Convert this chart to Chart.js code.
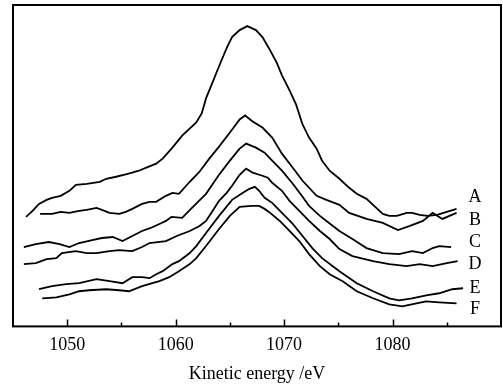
<!DOCTYPE html>
<html>
<head>
<meta charset="utf-8">
<script src="https://cdn.jsdelivr.net/npm/chart.js@4"></script>
<style>
html,body{margin:0;padding:0;background:#fff;}
#wrap{width:503px;height:385px;position:relative;}
</style>
</head>
<body>
<div id="wrap"><canvas id="c" width="503" height="385"></canvas></div>
<script>
// Kinetic energy (eV) and intensity (arb. units) for each spectrum
const energyA = [1046.2,1046.8,1047.4,1048.1,1048.6,1049.4,1050.2,1050.8,1051.8,1053.0,1053.6,1054.5,1055.3,1056.0,1056.6,1057.3,1058.2,1058.8,1059.7,1060.6,1061.9,1062.4,1062.8,1063.4,1064.0,1064.7,1065.2,1065.9,1066.6,1067.4,1068.0,1068.6,1069.3,1069.8,1070.5,1071.1,1071.7,1072.3,1073.0,1073.5,1074.2,1075.1,1076.0,1076.7,1077.6,1078.3,1079.1,1079.7,1080.4,1081.3,1081.8,1082.5,1083.2,1084.1,1085.0,1085.9];
const intensA = [109,115,122,126,128,130,135,141,142,144,147,149,151,153,155,158,162,167,178,190,203,212,227,243,259,277,288,295,299,295,288,277,263,250,235,221,201,188,177,165,155,147,138,132,127,120,112,110,110,113,113,111,110,111,114,117];

const energyB = [1047.5,1048.6,1049.4,1050.2,1051.1,1051.8,1052.7,1053.2,1053.9,1054.8,1055.4,1056.0,1056.9,1057.6,1058.2,1059.1,1059.7,1060.3,1061.3,1062.2,1063.1,1064.0,1065.0,1065.9,1066.4,1067.1,1068.0,1068.9,1069.8,1070.8,1071.7,1073.0,1073.9,1075.1,1076.0,1077.6,1079.1,1080.5,1081.6,1082.8,1083.7,1084.6,1085.9];
const intensB = [112,112,114,113,115,116,118,116,113,112,114,117,122,124,124,130,133,132,144,154,167,179,193,206,210,204,198,188,172,158,145,130,126,121,113,107,103,96,100,105,113,107,113];

const energyC = [1046.0,1047.1,1048.3,1049.3,1050.2,1051.1,1052.3,1053.2,1054.2,1055.1,1056.0,1056.9,1057.7,1058.5,1059.1,1059.6,1060.6,1061.5,1062.8,1064.0,1065.0,1065.9,1066.5,1067.4,1068.2,1068.9,1069.8,1070.8,1071.7,1072.3,1073.3,1074.5,1075.1,1076.3,1077.6,1079.1,1080.6,1081.8,1082.8,1083.7,1084.3,1085.4];
const intensC = [79,82,84,82,79,83,86,88,89,85,90,95,98,102,105,109,108,118,132,151,165,177,182,178,173,165,155,142,129,120,110,100,95,87,78,73,72,75,73,78,80,79];

const energyD = [1046.0,1047.1,1048.1,1049.0,1049.5,1050.8,1051.8,1052.7,1053.9,1054.8,1056.0,1056.9,1057.6,1059.1,1060.1,1061.3,1062.2,1062.8,1063.4,1064.0,1064.7,1065.2,1065.9,1066.5,1067.1,1068.0,1068.5,1068.9,1069.8,1070.5,1071.4,1072.3,1073.3,1074.2,1075.1,1076.3,1078.2,1079.7,1081.3,1082.5,1083.7,1085.0,1086.0];
const intensD = [62,63,67,68,73,75,73,73,75,76,75,79,83,85,90,95,100,105,115,125,133,140,151,157,153,150,148,143,135,125,115,105,95,87,77,70,65,62,60,62,60,63,65];

const energyE = [1047.4,1048.6,1049.9,1051.1,1052.7,1053.9,1055.1,1056.0,1056.9,1057.6,1058.2,1058.8,1059.7,1060.3,1061.3,1061.9,1062.8,1064.0,1065.2,1066.2,1066.8,1067.3,1067.7,1068.2,1068.9,1069.8,1070.8,1071.7,1072.6,1073.5,1075.1,1076.7,1078.2,1079.7,1080.6,1081.8,1083.1,1084.3,1085.5,1086.5];
const intensE = [37,40,42,43,47,45,43,49,49,48,52,55,62,65,73,80,93,110,126,133,137,139,135,128,123,113,102,90,78,68,55,43,35,28,26,28,31,33,37,38];

const energyF = [1047.7,1049.0,1050.2,1051.1,1052.0,1053.6,1054.8,1055.7,1056.9,1058.5,1059.4,1060.3,1061.3,1061.9,1062.8,1064.0,1065.0,1065.9,1067.0,1067.7,1068.2,1068.6,1069.6,1070.5,1071.4,1072.3,1073.3,1074.2,1075.4,1076.7,1078.2,1079.7,1080.9,1082.2,1083.1,1084.3,1085.9];
const intensF = [28,29,32,35,36,37,36,35,40,45,49,55,62,68,80,97,110,119,120,120,117,114,105,95,85,72,60,52,45,35,28,22,20,23,25,24,23];

const seriesNames = ['A','B','C','D','E','F'];
const labelIntensity = [129,106,84,62,38,17];
const labelEnergy = 1087.6;
const tickValues = [1050,1060,1070,1080];
const minorTickValues = [1055,1065,1075,1085];
const xMin = 1045, xMax = 1090, yMin = 0, yMax = 320;
const xTitle = 'Kinetic energy /eV';

const energies = [energyA,energyB,energyC,energyD,energyE,energyF];
const intens = [intensA,intensB,intensC,intensD,intensE,intensF];

const datasets = seriesNames.map((n,i)=>({
  label:n,
  data: energies[i].map((x,j)=>({x:x,y:intens[i][j]})),
  borderColor:'#000',
  borderWidth:1.8,
  pointRadius:0,
  tension:0,
  fill:false
}));

const serif = '"Liberation Serif","Times New Roman",serif';

const decor = {
  id:'decor',
  afterDraw(chart){
    const ctx = chart.ctx, a = chart.chartArea;
    const xs = chart.scales.x, ys = chart.scales.y;
    ctx.save();
    ctx.strokeStyle = '#000';
    ctx.lineWidth = 2;
    ctx.strokeRect(a.left, a.top, a.right-a.left, a.bottom-a.top);
    ctx.lineWidth = 1.5;
    ctx.beginPath();
    tickValues.forEach(v=>{const px=Math.round(xs.getPixelForValue(v))+0.5; ctx.moveTo(px,a.bottom); ctx.lineTo(px,a.bottom-7);});
    minorTickValues.forEach(v=>{const px=Math.round(xs.getPixelForValue(v))+0.5; ctx.moveTo(px,a.bottom); ctx.lineTo(px,a.bottom-4);});
    ctx.stroke();
    ctx.fillStyle = '#000';
    ctx.font = '18px ' + serif;
    ctx.textAlign = 'center';
    ctx.textBaseline = 'middle';
    seriesNames.forEach((n,i)=>{
      ctx.fillText(n, xs.getPixelForValue(labelEnergy), ys.getPixelForValue(labelIntensity[i]));
    });
    ctx.font = '18px ' + serif;
    ctx.textBaseline = 'alphabetic';
    ctx.fillText(xTitle, (a.left+a.right)/2, 379);
    ctx.restore();
  }
};

new Chart(document.getElementById('c'), {
  type:'line',
  data:{datasets:datasets},
  options:{
    responsive:false,
    animation:false,
    layout:{padding:{left:13,right:2,top:5,bottom:21}},
    plugins:{legend:{display:false},tooltip:{enabled:false},title:{display:false}},
    scales:{
      x:{
        type:'linear', min:xMin, max:xMax,
        grid:{display:false, drawTicks:false},
        border:{display:false},
        afterBuildTicks(scale){ scale.ticks = tickValues.map(v=>({value:v})); },
        ticks:{color:'#000', padding:8, maxRotation:0, autoSkip:false, font:{family:serif, size:18},
               callback:(v)=>String(v)}
      },
      y:{
        type:'linear', min:yMin, max:yMax, display:false
      }
    }
  },
  plugins:[decor]
});
</script>
</body>
</html>
